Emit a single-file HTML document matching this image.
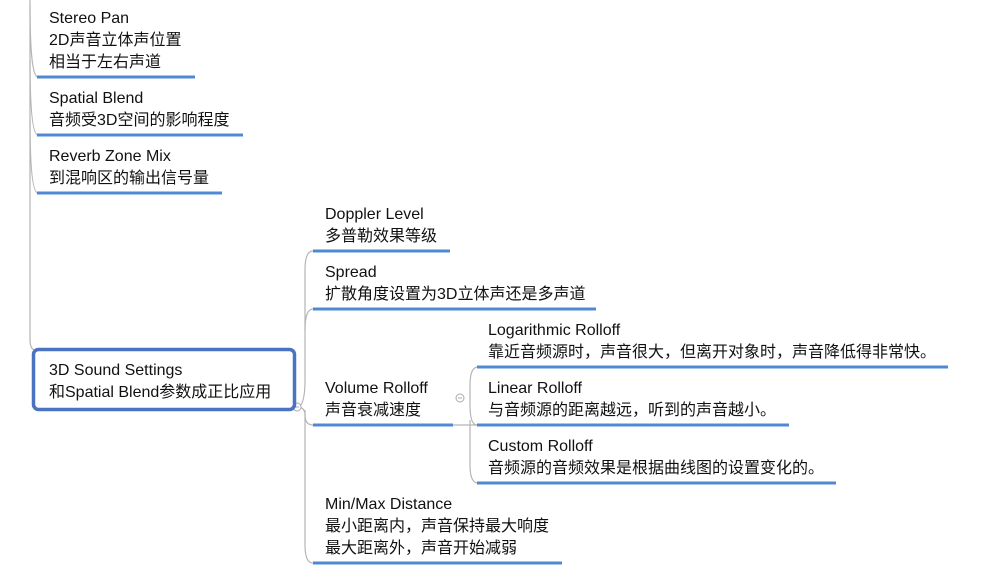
<!DOCTYPE html>
<html><head><meta charset="utf-8"><style>
body{margin:0;background:#fff;width:983px;height:571px;overflow:hidden}
svg text{font-family:"Liberation Sans","Noto Sans CJK SC",sans-serif;font-size:16px;fill:#111}
</style></head><body>
<svg width="983" height="571" xmlns="http://www.w3.org/2000/svg">
<g fill="none" stroke="#b5b5b5" stroke-width="1.2">
<path d="M30 0 L30 340 Q30 348 34 350"/>
<path d="M30 5 Q30 77 38 77"/>
<path d="M30 60 Q30 135 38 135"/>
<path d="M30 120 Q30 193 38 193"/>
<path d="M297 407 Q305 407 305 380 L305 270 Q305 251 313 251"/>
<path d="M305 330 Q305 309 313 309"/>
<path d="M297 407 Q305 407 305 415 Q305 425 313 425"/>
<path d="M305 410 L305 545 Q305 563 313 563"/>
<path d="M453 425 L478 425"/>
<path d="M477 425 Q470 425 470 405 L470 385 Q470 367 478 367"/>
<path d="M470 420 L470 465 Q470 483 478 483"/>
</g>
<circle cx="297" cy="407" r="4" fill="#fff" stroke="#aaa"/>
<line x1="295" y1="407" x2="299" y2="407" stroke="#aaa"/>
<circle cx="460" cy="398" r="4" fill="#fff" stroke="#aaa"/>
<line x1="458" y1="398" x2="462" y2="398" stroke="#aaa"/>
<g stroke="#4f88d3" stroke-width="3">
<line x1="37" y1="77" x2="195" y2="77"/>
<line x1="37" y1="135" x2="243" y2="135"/>
<line x1="37" y1="193" x2="222" y2="193"/>
<line x1="313" y1="251" x2="450" y2="251"/>
<line x1="313" y1="309" x2="596" y2="309"/>
<line x1="313" y1="425" x2="453" y2="425"/>
<line x1="313" y1="563" x2="562" y2="563"/>
<line x1="477" y1="367" x2="948" y2="367"/>
<line x1="477" y1="425" x2="789" y2="425"/>
<line x1="477" y1="483" x2="836" y2="483"/>
</g>
<rect x="33.5" y="349.5" width="261" height="60" rx="5" fill="#fff" stroke="#4a73c2" stroke-width="3.5"/>
<text x="49" y="23">Stereo Pan</text>
<text x="49" y="45">2D声音立体声位置</text>
<text x="49" y="67">相当于左右声道</text>
<text x="49" y="103">Spatial Blend</text>
<text x="49" y="125">音频受3D空间的影响程度</text>
<text x="49" y="161">Reverb Zone Mix</text>
<text x="49" y="183">到混响区的输出信号量</text>
<text x="49" y="375">3D Sound Settings</text>
<text x="49" y="397">和Spatial Blend参数成正比应用</text>
<text x="325" y="219">Doppler Level</text>
<text x="325" y="241">多普勒效果等级</text>
<text x="325" y="277">Spread</text>
<text x="325" y="299">扩散角度设置为3D立体声还是多声道</text>
<text x="325" y="393">Volume Rolloff</text>
<text x="325" y="415">声音衰减速度</text>
<text x="325" y="509">Min/Max Distance</text>
<text x="325" y="531">最小距离内，声音保持最大响度</text>
<text x="325" y="553">最大距离外，声音开始减弱</text>
<text x="488" y="335">Logarithmic Rolloff</text>
<text x="488" y="357">靠近音频源时，声音很大，但离开对象时，声音降低得非常快。</text>
<text x="488" y="393">Linear Rolloff</text>
<text x="488" y="415">与音频源的距离越远，听到的声音越小。</text>
<text x="488" y="451">Custom Rolloff</text>
<text x="488" y="473">音频源的音频效果是根据曲线图的设置变化的。</text>
</svg>
</body></html>
